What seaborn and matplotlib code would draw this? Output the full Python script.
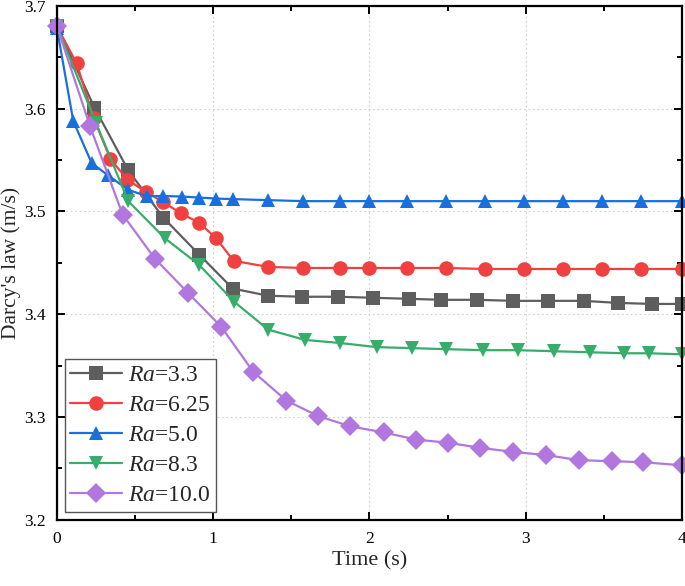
import pandas as pd
import numpy as np
import matplotlib
matplotlib.use("Agg")
import matplotlib.pyplot as plt
from matplotlib.ticker import MultipleLocator
import seaborn as sns

# Values (Darcy's law vs time)
t_33 = [0, 0.24, 0.456, 0.68, 0.91, 1.124, 1.35, 1.57, 1.80, 2.02, 2.25, 2.46,
        2.69, 2.92, 3.14, 3.37, 3.59, 3.81, 4.0]
v_33 = [3.680, 3.601, 3.540, 3.494, 3.458, 3.425, 3.418, 3.417, 3.417, 3.416,
        3.415, 3.414, 3.414, 3.413, 3.413, 3.413, 3.411, 3.410, 3.410]

t_625 = [0, 0.126, 0.234, 0.342, 0.45, 0.57, 0.68, 0.795, 0.91, 1.018, 1.13,
         1.352, 1.577, 1.81, 2.0, 2.24, 2.49, 2.74, 2.99, 3.24, 3.49, 3.74, 4.0]
v_625 = [3.680, 3.644, 3.591, 3.551, 3.531, 3.519, 3.509, 3.498, 3.489, 3.474,
         3.452, 3.446, 3.445, 3.445, 3.445, 3.445, 3.445, 3.444, 3.444, 3.444,
         3.444, 3.444, 3.444]

t_50 = [0, 0.104, 0.222, 0.328, 0.456, 0.574, 0.68, 0.80, 0.91, 1.018, 1.124,
        1.35, 1.577, 1.81, 2.0, 2.24, 2.49, 2.74, 2.99, 3.24, 3.49, 3.74, 4.0]
v_50 = [3.678, 3.588, 3.547, 3.535, 3.521, 3.515, 3.515, 3.5145, 3.5135, 3.5125,
        3.512, 3.511, 3.510, 3.510, 3.510, 3.510, 3.510, 3.510, 3.510, 3.510,
        3.510, 3.510, 3.510]

t_83 = [0, 0.25, 0.456, 0.69, 0.91, 1.135, 1.352, 1.587, 1.81, 2.046, 2.27,
        2.49, 2.725, 2.95, 3.18, 3.41, 3.63, 3.79, 4.0]
v_83 = [3.680, 3.586, 3.510, 3.474, 3.448, 3.412, 3.385, 3.375, 3.372, 3.368,
        3.367, 3.366, 3.365, 3.365, 3.364, 3.363, 3.362, 3.362, 3.361]

t_100 = [0, 0.211, 0.42, 0.627, 0.837, 1.05, 1.256, 1.468, 1.67, 1.875, 2.09,
         2.30, 2.50, 2.71, 2.92, 3.13, 3.34, 3.55, 3.75, 4.0]
v_100 = [3.680, 3.583, 3.497, 3.454, 3.421, 3.388, 3.344, 3.316, 3.301, 3.291,
         3.285, 3.278, 3.275, 3.270, 3.266, 3.263, 3.258, 3.257, 3.256, 3.253]

labels = [r"$\mathit{Ra}$=3.3", r"$\mathit{Ra}$=6.25", r"$\mathit{Ra}$=5.0",
          r"$\mathit{Ra}$=8.3", r"$\mathit{Ra}$=10.0"]
times = [t_33, t_625, t_50, t_83, t_100]
values = [v_33, v_625, v_50, v_83, v_100]
colors = ["#5E5E5E", "#F14040", "#1A6FDF", "#37AD6B", "#B177DE"]
markers = ["s", "o", "^", "v", "D"]

df = pd.concat([pd.DataFrame({"Time": t, "Darcy": v, "Case": lab})
                for t, v, lab in zip(times, values, labels)], ignore_index=True)

sns.set_theme(style="ticks")
plt.rcParams["font.family"] = ["Liberation Serif", "DejaVu Serif"]
plt.rcParams["mathtext.fontset"] = "custom"
plt.rcParams["mathtext.rm"] = "Liberation Serif"
plt.rcParams["mathtext.it"] = "Liberation Serif:italic"

fig = plt.figure(figsize=(6.85, 5.86), dpi=100)
ax = fig.add_axes([0.0832, 0.113, 0.9124, 0.877])

sns.lineplot(data=df, x="Time", y="Darcy", hue="Case", style="Case",
             hue_order=labels, style_order=labels,
             palette=dict(zip(labels, colors)),
             markers=dict(zip(labels, markers)), dashes=False,
             markersize=10.5, markeredgewidth=0, linewidth=1.6,
             sort=False, clip_on=False, ax=ax)

ax.set_xlim(0, 4)
ax.set_ylim(3.2, 3.7)
ax.xaxis.set_major_locator(MultipleLocator(1))
ax.xaxis.set_minor_locator(MultipleLocator(0.5))
ax.yaxis.set_major_locator(MultipleLocator(0.1))
ax.yaxis.set_minor_locator(MultipleLocator(0.05))
ax.set_yticks([3.2, 3.3, 3.4, 3.5, 3.6, 3.7])
ax.set_yticklabels(["3.2", "3.3", "3.4", "3.5", "3.6", "3.7"])

ax.grid(True, which="major", linestyle=(0, (1.5, 2.5)), color="#CFCFCF", linewidth=0.8)
ax.set_axisbelow(True)
for s in ax.spines.values():
    s.set_linewidth(1.6)
    s.set_color("black")

ax.tick_params(which="both", direction="in", top=True, right=True, width=1.4,
               colors="black", labelsize=12.5, pad=8)
ax.tick_params(which="major", length=6)
ax.tick_params(which="minor", length=3.5)

ax.set_xlabel("Time (s)", fontsize=16, labelpad=3)
ax.set_ylabel("Darcy's law (m/s)", fontsize=15.5, labelpad=2)

leg = ax.legend(loc="lower left", fontsize=17, frameon=True, fancybox=False,
                edgecolor="#555555", framealpha=1, borderpad=0.22,
                labelspacing=0.36, handlelength=2.2, handletextpad=0.25,
                borderaxespad=0.35)
leg.get_frame().set_linewidth(1.0)

fig.savefig("out.png", dpi=100)
